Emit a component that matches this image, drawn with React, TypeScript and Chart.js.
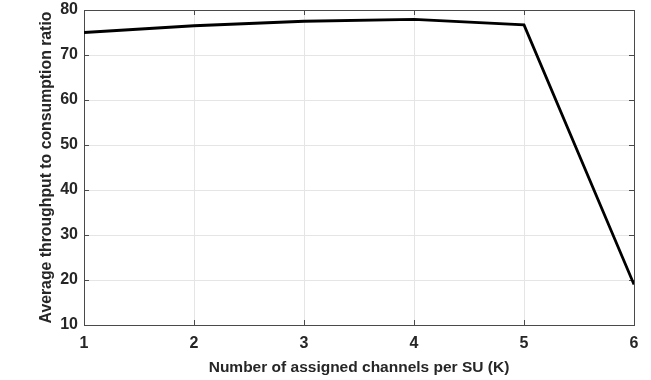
import React, { useEffect, useRef } from "react";
import { Chart, registerables } from "chart.js";

Chart.register(...registerables);

const channels = [1, 2, 3, 4, 5, 6];
const ratio = [75.0, 76.5, 77.5, 77.9, 76.7, 19.0];
const xTicks = [1, 2, 3, 4, 5, 6];
const yTicks = [10, 20, 30, 40, 50, 60, 70, 80];

const FONT = "'Liberation Sans', Arial, Helvetica, sans-serif";
const TEXT = "#262626";
const AXIS = "#4a4a4a";

const boxPlugin = {
  id: "matlabBox",
  beforeDatasetsDraw(chart: any) {
    const { ctx, chartArea, scales } = chart;
    const { left, right, top, bottom } = chartArea;
    ctx.save();
    ctx.strokeStyle = AXIS;
    ctx.lineWidth = 1;
    ctx.beginPath();
    const tl = 5;
    for (const v of xTicks) {
      const px = Math.round(scales.x.getPixelForValue(v)) + 0.5;
      ctx.moveTo(px, bottom);
      ctx.lineTo(px, bottom - tl);
      ctx.moveTo(px, top);
      ctx.lineTo(px, top + tl);
    }
    for (const v of yTicks) {
      const py = Math.round(scales.y.getPixelForValue(v)) + 0.5;
      ctx.moveTo(left, py);
      ctx.lineTo(left + tl, py);
      ctx.moveTo(right, py);
      ctx.lineTo(right - tl, py);
    }
    ctx.stroke();
    ctx.strokeRect(Math.round(left) + 0.5, Math.round(top) + 0.5, Math.round(right - left), Math.round(bottom - top));
    ctx.restore();
  },
};

export default function App() {
  const ref = useRef<HTMLCanvasElement>(null);
  useEffect(() => {
    if (!ref.current) return;
    const chart = new Chart(ref.current, {
      type: "line",
      data: {
        datasets: [
          {
            data: channels.map((c, i) => ({ x: c, y: ratio[i] })),
            borderColor: "#000000",
            borderWidth: 2.8,
            pointRadius: 0,
            tension: 0,
            fill: false,
          },
        ],
      },
      options: {
        animation: false,
        responsive: false,
        maintainAspectRatio: false,
        layout: { padding: { top: 10, right: 17, left: 0, bottom: 0 } },
        plugins: { legend: { display: false }, tooltip: { enabled: false } },
        scales: {
          x: {
            type: "linear",
            min: 1,
            max: 6,
            afterFit: (s: any) => {
              s.height = 55;
              s.paddingLeft = 0;
              s.paddingRight = 0;
            },
            afterBuildTicks: (s: any) => {
              s.ticks = xTicks.map((v) => ({ value: v }));
            },
            ticks: {
              color: TEXT,
              font: { family: FONT, size: 16, weight: "bold" },
              padding: 9,
              maxRotation: 0,
              callback: (v: any) => String(v),
            },
            grid: { color: "#e5e5e5", lineWidth: 1, drawTicks: false },
            border: { display: false },
            title: {
              display: true,
              text: "Number of assigned channels per SU (K)",
              color: TEXT,
              font: { family: FONT, size: 15.5, weight: "bold" },
              padding: { top: 0, bottom: 3 },
            },
          },
          y: {
            type: "linear",
            min: 10,
            max: 80,
            afterFit: (s: any) => {
              s.width = 84;
              s.paddingTop = 0;
              s.paddingBottom = 0;
            },
            afterBuildTicks: (s: any) => {
              s.ticks = yTicks.map((v) => ({ value: v }));
            },
            ticks: {
              color: TEXT,
              font: { family: FONT, size: 16, weight: "bold" },
              padding: 6,
              callback: (v: any) => String(v),
            },
            grid: { color: "#e5e5e5", lineWidth: 1, drawTicks: false },
            border: { display: false },
            title: {
              display: true,
              text: "Average throughput to consumption ratio",
              color: TEXT,
              font: { family: FONT, size: 15.8, weight: "bold" },
              padding: { top: 37.5, bottom: 0 },
            },
          },
        },
      },
      plugins: [boxPlugin],
    });
    return () => chart.destroy();
  }, []);
  return (
    <div style={{ position: "absolute", left: 0, top: 0, width: 651, height: 380, background: "#ffffff" }}>
      <canvas ref={ref} width={651} height={380} style={{ display: "block", width: 651, height: 380 }} />
    </div>
  );
}
